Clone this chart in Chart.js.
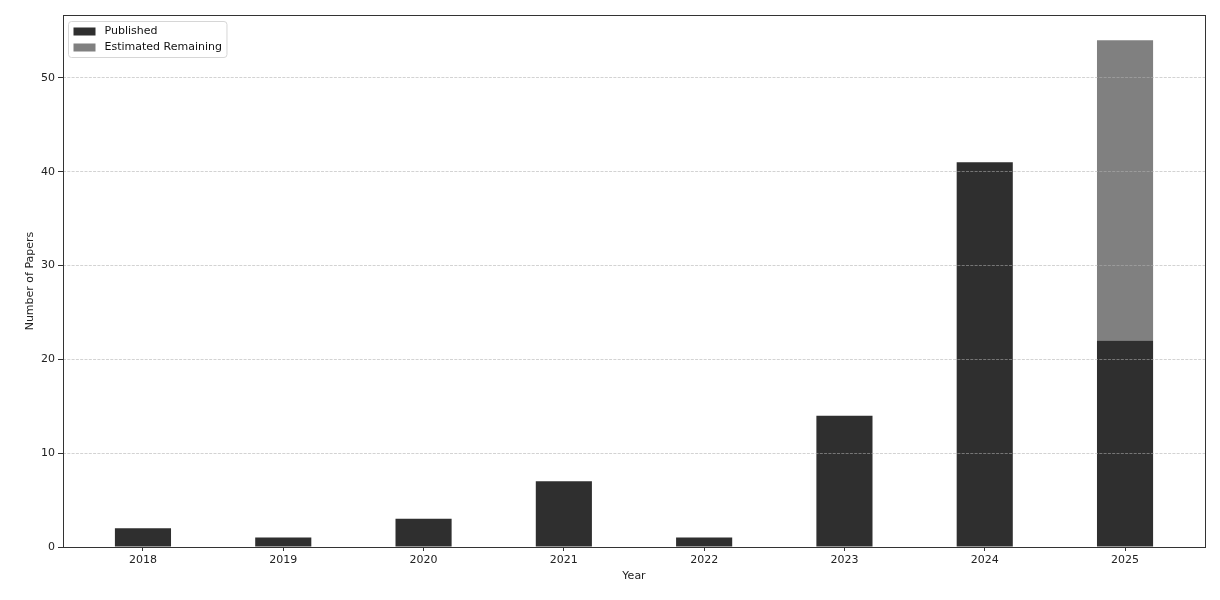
<!DOCTYPE html>
<html>
<head>
<meta charset="utf-8">
<script src="https://cdn.jsdelivr.net/npm/chart.js@4.4.1/dist/chart.umd.min.js"></script>
<style>
  html, body { margin: 0; padding: 0; background: #ffffff; }
  #wrap { width: 1220px; height: 600px; }
</style>
</head>
<body>
<div id="wrap"><canvas id="c" width="1220" height="600"></canvas></div>
<script>
const years = ['2018', '2019', '2020', '2021', '2022', '2023', '2024', '2025'];
const published = [2, 1, 3, 7, 1, 14, 41, 22];
const estimatedRemaining = [null, null, null, null, null, null, null, 32];
const yTicks = [0, 10, 20, 30, 40, 50];
const yMax = 56.7;
const xMin = -0.57, xMax = 7.57;

const FONT = "'DejaVu Sans', sans-serif";

const framePlugin = {
  id: 'frame',
  afterDraw(chart) {
    const {ctx, chartArea: a} = chart;
    ctx.save();
    ctx.strokeStyle = '#333333';
    ctx.lineWidth = 1;
    ctx.strokeRect(Math.round(a.left) + 0.5, Math.round(a.top) + 0.5,
                   Math.round(a.right - a.left), Math.round(a.bottom - a.top));
    ctx.restore();
  }
};

const legendPlugin = {
  id: 'boxLegend',
  afterDraw(chart) {
    const {ctx, chartArea: a} = chart;
    const ds = chart.data.datasets;
    ctx.save();
    ctx.font = '11px ' + FONT;
    let maxW = 0;
    ds.forEach(d => { maxW = Math.max(maxW, ctx.measureText(d.label).width); });
    const x0 = a.left + 5.5, y0 = a.top + 6.5;
    const w = 8 + 22 + 9 + maxW + 2, h = 36;
    const r = 3;
    ctx.beginPath();
    ctx.moveTo(x0 + r, y0);
    ctx.lineTo(x0 + w - r, y0); ctx.quadraticCurveTo(x0 + w, y0, x0 + w, y0 + r);
    ctx.lineTo(x0 + w, y0 + h - r); ctx.quadraticCurveTo(x0 + w, y0 + h, x0 + w - r, y0 + h);
    ctx.lineTo(x0 + r, y0 + h); ctx.quadraticCurveTo(x0, y0 + h, x0, y0 + h - r);
    ctx.lineTo(x0, y0 + r); ctx.quadraticCurveTo(x0, y0, x0 + r, y0);
    ctx.closePath();
    ctx.fillStyle = 'rgba(255,255,255,0.8)';
    ctx.fill();
    ctx.strokeStyle = '#d6d6d6';
    ctx.stroke();
    ds.forEach((d, i) => {
      const cy = y0 + 10 + i * 16;
      ctx.fillStyle = d.backgroundColor;
      ctx.fillRect(x0 + 5, cy - 4, 22, 8);
      ctx.fillStyle = '#111111';
      ctx.textBaseline = 'middle';
      ctx.textAlign = 'left';
      ctx.fillText(d.label, x0 + 36, cy);
    });
    ctx.restore();
  }
};

new Chart(document.getElementById('c'), {
  type: 'bar',
  data: {
    datasets: [
      {
        label: 'Published',
        data: published.map((v, i) => ({x: i, y: v})),
        backgroundColor: '#2f2f2f',
        borderWidth: 0,
        barPercentage: 0.4,
        categoryPercentage: 1.0
      },
      {
        label: 'Estimated Remaining',
        data: estimatedRemaining.map((v, i) => ({x: i, y: v})),
        backgroundColor: '#808080',
        borderWidth: 0,
        barPercentage: 0.4,
        categoryPercentage: 1.0
      }
    ]
  },
  options: {
    responsive: false,
    animation: false,
    devicePixelRatio: 1,
    layout: { padding: { left: 0, right: 15, top: 15, bottom: 0 } },
    plugins: {
      legend: { display: false },
      tooltip: { enabled: false }
    },
    scales: {
      x: {
        type: 'linear',
        stacked: true,
        offset: false,
        min: xMin,
        max: xMax,
        afterBuildTicks: s => { s.ticks = years.map((_, i) => ({value: i})); },
        afterFit: s => { s.height = 53; },
        grid: {
          offset: false,
          drawOnChartArea: false,
          drawTicks: true,
          tickLength: 4,
          tickColor: '#333333',
          tickWidth: 1
        },
        border: { display: false },
        ticks: {
          autoSkip: false,
          maxRotation: 0,
          padding: 3,
          color: '#222222',
          font: { family: FONT, size: 11 },
          callback: v => years[v]
        },
        title: {
          display: true,
          text: 'Year',
          color: '#222222',
          font: { family: FONT, size: 11 },
          padding: { top: 0, bottom: 17 }
        }
      },
      y: {
        type: 'linear',
        stacked: true,
        min: 0,
        max: yMax,
        afterBuildTicks: s => { s.ticks = yTicks.map(v => ({value: v})); },
        afterFit: s => { s.width = 63; },
        grid: {
          z: 1,
          color: 'rgba(176,176,176,0.7)',
          lineWidth: 0.8,
          drawTicks: true,
          tickLength: 5,
          tickColor: '#333333',
          tickWidth: 1,
          tickBorderDash: []
        },
        border: { display: false, dash: [3, 1.3] },
        ticks: {
          padding: 3,
          color: '#222222',
          font: { family: FONT, size: 11 }
        },
        title: {
          display: true,
          text: 'Number of Papers',
          color: '#222222',
          font: { family: FONT, size: 11 },
          padding: { top: 24, bottom: 0 }
        }
      }
    }
  },
  plugins: [framePlugin, legendPlugin]
});
</script>
</body>
</html>
